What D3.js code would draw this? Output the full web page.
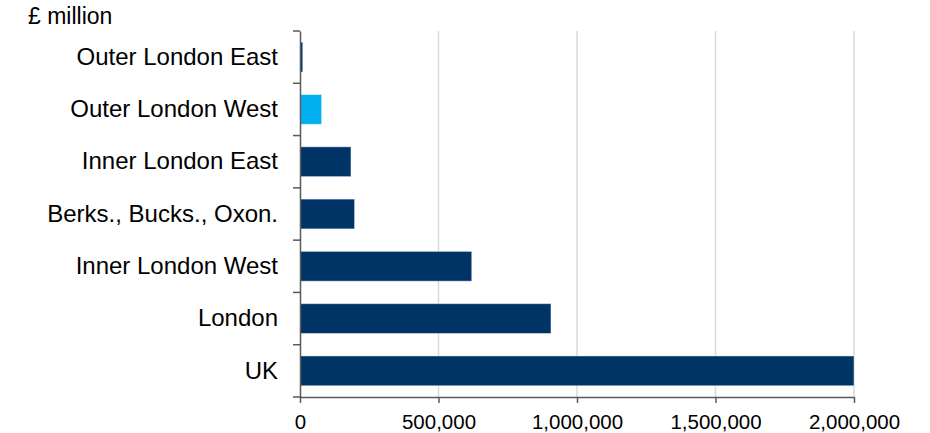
<!DOCTYPE html>
<html>
<head>
<meta charset="utf-8">
<script src="https://d3js.org/d3.v7.min.js"></script>
<style>
  body { margin: 0; background: #fff; }
  svg text { font-family: "Liberation Sans", Arial, sans-serif; fill: #000; }
</style>
</head>
<body>
<script>
// data (£ million)
var regions = ["Outer London East", "Outer London West", "Inner London East",
               "Berks., Bucks., Oxon.", "Inner London West", "London", "UK"];
var values = [10000, 78000, 184000, 197000, 620000, 906000, 2000000];
var highlight = "Outer London West";
var xTicks = [0, 500000, 1000000, 1500000, 2000000];

var width = 930, height = 433;
var margin = { top: 31, right: 76, bottom: 36, left: 300 };
var innerW = width - margin.left - margin.right,
    innerH = height - margin.top - margin.bottom;

var svg = d3.select("body").append("svg")
  .attr("width", width)
  .attr("height", height);

var rows = regions.map(function (r, i) { return { name: r, value: values[i] }; });

var x = d3.scaleLinear().domain([0, 2000000]).range([0, innerW]);
var y = d3.scaleBand().domain(regions).range([0, innerH]).paddingInner(0.43).paddingOuter(0.215);

var g = svg.append("g").attr("transform", "translate(" + margin.left + "," + margin.top + ")");

// gridlines
g.selectAll("line.grid").data(xTicks.slice(1)).enter().append("line")
  .attr("class", "grid")
  .attr("x1", function (d) { return x(d); })
  .attr("x2", function (d) { return x(d); })
  .attr("y1", 0).attr("y2", innerH)
  .attr("stroke", "#d9d9d9").attr("stroke-width", 1.5);

// bars
g.selectAll("rect.bar").data(rows).enter().append("rect")
  .attr("class", "bar")
  .attr("x", x(0))
  .attr("y", function (d) { return y(d.name); })
  .attr("width", function (d) { return x(d.value) - x(0); })
  .attr("height", y.bandwidth())
  .attr("fill", function (d) { return d.name === highlight ? "#00b0f0" : "#003366"; })
  .attr("stroke", "rgba(255,255,255,0.45)")
  .attr("stroke-width", 1);

// x axis
var xAxis = g.append("g")
  .attr("transform", "translate(0," + innerH + ")")
  .call(d3.axisBottom(x).tickValues(xTicks).tickFormat(d3.format(",")).tickSize(6).tickSizeOuter(0));
xAxis.select(".domain").attr("stroke", "#595959").attr("stroke-width", 1.5);
xAxis.selectAll(".tick line").attr("stroke", "#595959").attr("stroke-width", 1.5);
xAxis.selectAll(".tick text").attr("font-size", 20.5).attr("dy", "1.12em");

// y axis: labels at band centres, ticks on band boundaries
var yAxis = g.append("g")
  .call(d3.axisLeft(y).tickSize(0).tickPadding(22));
yAxis.select(".domain").attr("stroke", "#595959").attr("stroke-width", 1.5);
yAxis.selectAll(".tick text").attr("font-size", 24);

var bounds = regions.map(function (r) { return y(r) - y.step() * y.paddingInner() / 2; });
bounds.push(innerH);
g.selectAll("line.ytick").data(bounds).enter().append("line")
  .attr("class", "ytick")
  .attr("x1", -7).attr("x2", 0)
  .attr("y1", function (d) { return d; })
  .attr("y2", function (d) { return d; })
  .attr("stroke", "#595959").attr("stroke-width", 1.5);

// unit label
svg.append("text")
  .attr("x", 28).attr("y", 24)
  .attr("font-size", 23)
  .text("£ million");
</script>
</body>
</html>
